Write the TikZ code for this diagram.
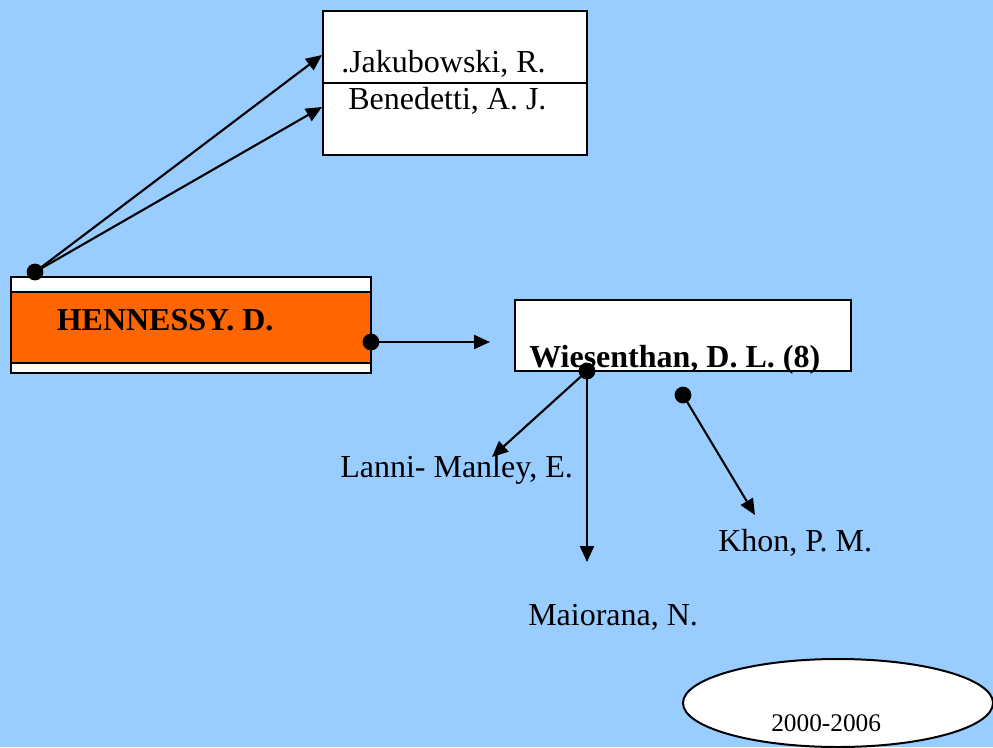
\documentclass[tikz,border=0pt]{standalone}
\usepackage{fontspec}
\setmainfont{Liberation Serif}
\usetikzlibrary{arrows.meta,shapes.geometric}
\definecolor{sky}{HTML}{99CCFF}
\definecolor{flame}{HTML}{FF6600}
\begin{document}
\begin{tikzpicture}[x=0.75pt,y=-0.75pt,
  box/.style={draw=black,line width=1.5pt,fill=white,inner sep=0pt},
  link/.style={line width=1.6pt,-{Triangle[length=12pt,width=10.5pt]}},
  dotmark/.style={fill=black},
  authortext/.style={anchor=base west,inner sep=0pt,font=\fontsize{24pt}{28pt}\selectfont},
  boldauthor/.style={anchor=base west,inner sep=0pt,font=\fontsize{24pt}{28pt}\selectfont\bfseries}]
  % background
  \fill[sky] (0,0) rectangle (993,747);
  \useasboundingbox (0,0) rectangle (993,747);

  % co-author box at the top
  \node[box,minimum width=198pt,minimum height=108pt] (jb) at (455,83) {};
  \draw[line width=1.5pt] (jb.west) -- (jb.east);
  \node[authortext] (jak) at (341,72.5) {.Jakubowski, R.};
  \node[authortext] (ben) at (348,109) {Benedetti, A. J.};

  % main author
  \node[box,minimum width=270pt,minimum height=72pt] (hen) at (191,325) {};
  \node[draw=black,line width=1.5pt,fill=flame,inner sep=0pt,
        minimum width=270pt,minimum height=53.7pt] (henband) at (191,327.5) {};
  \node[boldauthor] (hentext) at (56.5,330.5) {HENNESSY. D.};

  % second co-author box
  \node[box,minimum width=252pt,minimum height=53.6pt] (wie) at (683,335.7) {};
  \node[boldauthor] (wietext) at (529,367.5) {Wiesenthan, D. L. (8)};

  % further names
  \node[authortext] (lan) at (340,477) {Lanni- Manley, E.};
  \node[authortext] (mai) at (528,625) {Maiorana, N.};
  \node[authortext] (kho) at (718,551) {Khon, P. M.};

  % period
  \node[box,ellipse,minimum width=232.5pt,minimum height=66pt] (per) at (838,703) {};
  \node[anchor=base west,inner sep=0pt,font=\fontsize{19pt}{22pt}\selectfont] (pertext) at (771,731) {2000-2006};

  % connector start points
  \coordinate (d1) at (35,272);
  \coordinate (d2) at (371,342);
  \coordinate (d3) at (587,371);
  \coordinate (d4) at (683,395);
  % connector end points
  \coordinate (t1) at (322,55);
  \coordinate (t2) at (322,107);
  \coordinate (t3) at (490,342);
  \coordinate (t4) at (492,457);
  \coordinate (t5) at (587,562);
  \coordinate (t6) at (755,515);

  \draw[link] (d1) -- (t1);
  \draw[link] (d1) -- (t2);
  \draw[link] (d2) -- (t3);
  \draw[link] (d3) -- (t4);
  \draw[link] (d3) -- (t5);
  \draw[link] (d4) -- (t6);

  \foreach \d in {d1,d2,d3,d4}
    \fill[dotmark] (\d) circle[radius=6.3pt];
\end{tikzpicture}
\end{document}
